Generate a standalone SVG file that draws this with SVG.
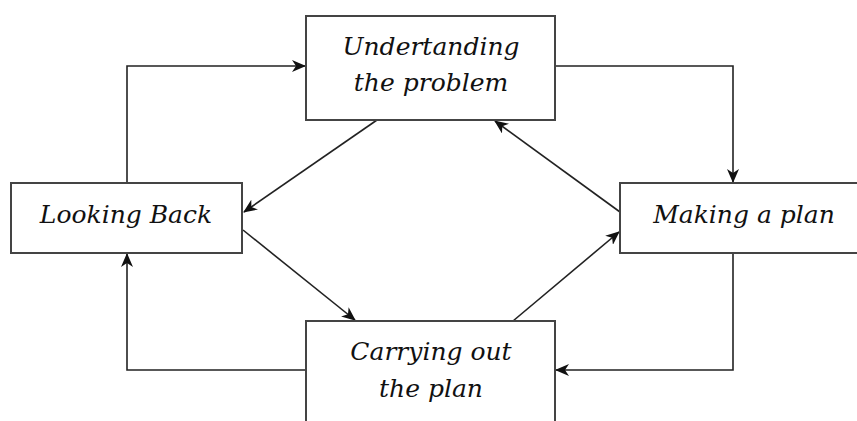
<svg xmlns="http://www.w3.org/2000/svg" width="857" height="421" viewBox="0 0 857 421">
<style>
.box{fill:#fff;stroke:#444;stroke-width:2}
.lbl{font-family:"DejaVu Serif","Liberation Serif",serif;font-style:italic;font-size:25px;fill:#111;text-anchor:middle}
.con{fill:none;stroke:#222;stroke-width:1.6;marker-end:url(#ah)}
</style>
<defs>
<marker id="ah" markerUnits="userSpaceOnUse" markerWidth="14" markerHeight="12" refX="13" refY="6" orient="auto">
<path d="M0,0 L14,6 L0,12 L4,6 z" fill="#111"/>
</marker>
</defs>
<rect width="857" height="421" fill="#fff"/>
<g id="connectors">
<path class="con" d="M127,183 V66 H305"/>
<path class="con" d="M555,66 H733 V182"/>
<path class="con" d="M733,253 V370 H556"/>
<path class="con" d="M306,370 H127 V254"/>
<path class="con" d="M377,120 L244,212"/>
<path class="con" d="M243,230 L355,320"/>
<path class="con" d="M513,321 L619,232"/>
<path class="con" d="M620,212 L495,121"/>
</g>
<g id="understanding">
<rect class="box" x="306" y="16" width="249" height="104"/>
<text class="lbl" x="431" y="55">Undertanding</text>
<text class="lbl" x="431" y="91">the problem</text>
</g>
<g id="looking-back">
<rect class="box" x="11" y="183" width="231" height="70"/>
<text class="lbl" x="126" y="223">Looking Back</text>
</g>
<g id="making-plan">
<rect class="box" x="620" y="183" width="250" height="70"/>
<text class="lbl" x="744" y="223">Making a plan</text>
</g>
<g id="carrying-out">
<rect class="box" x="306" y="321" width="249" height="120"/>
<text class="lbl" x="431" y="360">Carrying out</text>
<text class="lbl" x="431" y="397">the plan</text>
</g>
</svg>
